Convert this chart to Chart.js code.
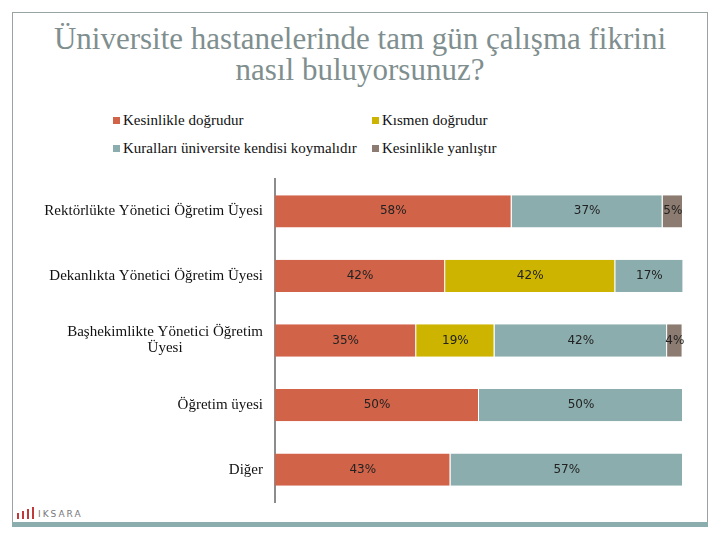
<!DOCTYPE html>
<html>
<head>
<meta charset="utf-8">
<script src="https://cdn.jsdelivr.net/npm/chart.js@4"></script>
<style>
  html, body { margin: 0; padding: 0; background: #fff; }
  #wrap { position: relative; width: 720px; height: 540px; overflow: hidden; }
  #frame { position: absolute; left: 12px; top: 12px; width: 694px; height: 511px; border: 1px solid #9aa3a3; border-bottom: none; }
  #strip { position: absolute; left: 12px; top: 522px; width: 696px; height: 5px; background: #8cadae; }
  #title { position: absolute; left: 0; top: 23px; width: 720px; text-align: center;
           font-family: "Liberation Serif", "Noto Serif", "DejaVu Serif", serif; font-size: 31px; line-height: 31px; color: #7f8f8f; }
  #legend { position: absolute; left: 113px; top: 112px; width: 420px;
            font-family: "Liberation Serif", "Noto Serif", "DejaVu Serif", serif; font-size: 15px; color: #111; }
  .item { position: absolute; white-space: nowrap; }
  .box { display: inline-block; width: 7px; height: 7px; margin-right: 3px; vertical-align: 1px; }
  #logo { position: absolute; left: 17px; top: 507px; font-family: "DejaVu Sans", sans-serif; font-size: 9px; color: #777; letter-spacing: 2px; }
  #logo i { display: inline-block; width: 2px; background: #c0393b; margin-right: 3px; vertical-align: bottom; }
  canvas { position: absolute; left: 0; top: 0; }
</style>
</head>
<body>
<div id="wrap">
  <div id="frame"></div>
  <div id="strip"></div>
  <div id="title">Üniversite hastanelerinde tam gün çalışma fikrini<br>nasıl buluyorsunuz?</div>
  <div id="legend"></div>
  <div id="logo"><i style="height:6px"></i><i style="height:8px"></i><i style="height:10px"></i><i style="height:12px;margin-right:4px"></i>IKSARA</div>
  <canvas id="grafico" width="720" height="540"></canvas>
</div>
<script>
// kategoriler
const kategoriler = [
    'Rektörlükte Yönetici Öğretim Üyesi',
    'Dekanlıkta Yönetici Öğretim Üyesi',
    ['Başhekimlikte Yönetici Öğretim', 'Üyesi'],
    'Öğretim üyesi',
    'Diğer'
];

// seriler (yüzde)
const kesinlikleDogru = [58, 41.7, 34.6, 50, 43];
const kismenDogru = [0, 41.7, 19.2, 0, 0];
const kurallar = [37, 16.7, 42.3, 50, 57];
const kesinlikleYanlis = [5, 0, 3.8, 0, 0];

const seriAdlari = [
    'Kesinlikle doğrudur',
    'Kısmen doğrudur',
    'Kuralları üniversite kendisi koymalıdır',
    'Kesinlikle yanlıştır'
];
const renkler = ['#d16349', '#ccb400', '#8cadae', '#8c7b70'];

const serif = '"Liberation Serif", "Noto Serif", "DejaVu Serif", serif';

// etiketler: kategori adları (çok satırlı olanlar ortalanır)
const kategoriEtiketleri = {
    id: 'kategoriEtiketleri',
    afterDraw(chart) {
        const ctx = chart.ctx;
        const y = chart.scales.y;
        const sag = chart.chartArea.left - 12;
        ctx.save();
        ctx.font = '15px ' + serif;
        ctx.fillStyle = '#111';
        ctx.textBaseline = 'middle';
        ctx.textAlign = 'center';
        kategoriler.forEach((k, i) => {
            const satirlar = Array.isArray(k) ? k : [k];
            const gen = Math.max(...satirlar.map(s => ctx.measureText(s).width));
            const merkez = y.getPixelForValue(i);
            const h = 16;
            satirlar.forEach((s, j) => {
                ctx.fillText(s, sag - gen / 2, merkez + (j - (satirlar.length - 1) / 2) * h);
            });
        });
        ctx.restore();
    }
};

// değer etiketleri
const degerEtiketleri = {
    id: 'degerEtiketleri',
    afterDatasetsDraw(chart) {
        const ctx = chart.ctx;
        ctx.save();
        ctx.font = '12px "DejaVu Sans", sans-serif';
        ctx.fillStyle = '#222';
        ctx.textAlign = 'center';
        ctx.textBaseline = 'middle';
        chart.data.datasets.forEach((ds, d) => {
            chart.getDatasetMeta(d).data.forEach((bar, i) => {
                const v = ds.data[i];
                if (!v) return;
                ctx.fillText(Math.round(v) + '%', (bar.x + bar.base) / 2, bar.y);
            });
        });
        ctx.restore();
    }
};

const veriler = [kesinlikleDogru, kismenDogru, kurallar, kesinlikleYanlis];

const grafik = new Chart(document.getElementById('grafico'), {
    type: 'bar',
    data: {
        labels: kategoriler,
        datasets: veriler.map((v, i) => ({
            label: seriAdlari[i],
            data: v,
            backgroundColor: renkler[i],
            borderColor: '#ffffff',
            borderWidth: { left: 0, top: 0, bottom: 0, right: 1 },
            borderSkipped: false,
            categoryPercentage: 1,
            barPercentage: 0.5
        }))
    },
    options: {
        indexAxis: 'y',
        responsive: false,
        animation: false,
        layout: { padding: { left: 275, right: 37, top: 179, bottom: 38 } },
        scales: {
            x: { stacked: true, display: false, min: 0, max: 100 },
            y: {
                stacked: true,
                grid: { display: false },
                ticks: { display: false },
                border: { display: true, color: '#8c8c8c', width: 2 },
                afterFit(s) { s.width = 0; }
            }
        },
        plugins: {
            legend: { display: false },
            tooltip: { enabled: false }
        }
    },
    plugins: [kategoriEtiketleri, degerEtiketleri]
});

// lejant
const konumlar = [[0, 0], [259, 0], [0, 28], [259, 28]];
const lejant = document.getElementById('legend');
grafik.data.datasets.forEach((ds, i) => {
    const el = document.createElement('div');
    el.className = 'item';
    el.style.left = konumlar[i][0] + 'px';
    el.style.top = konumlar[i][1] + 'px';
    el.innerHTML = '<span class="box" style="background:' + ds.backgroundColor + '"></span>' + ds.label;
    lejant.appendChild(el);
});
</script>
</body>
</html>
